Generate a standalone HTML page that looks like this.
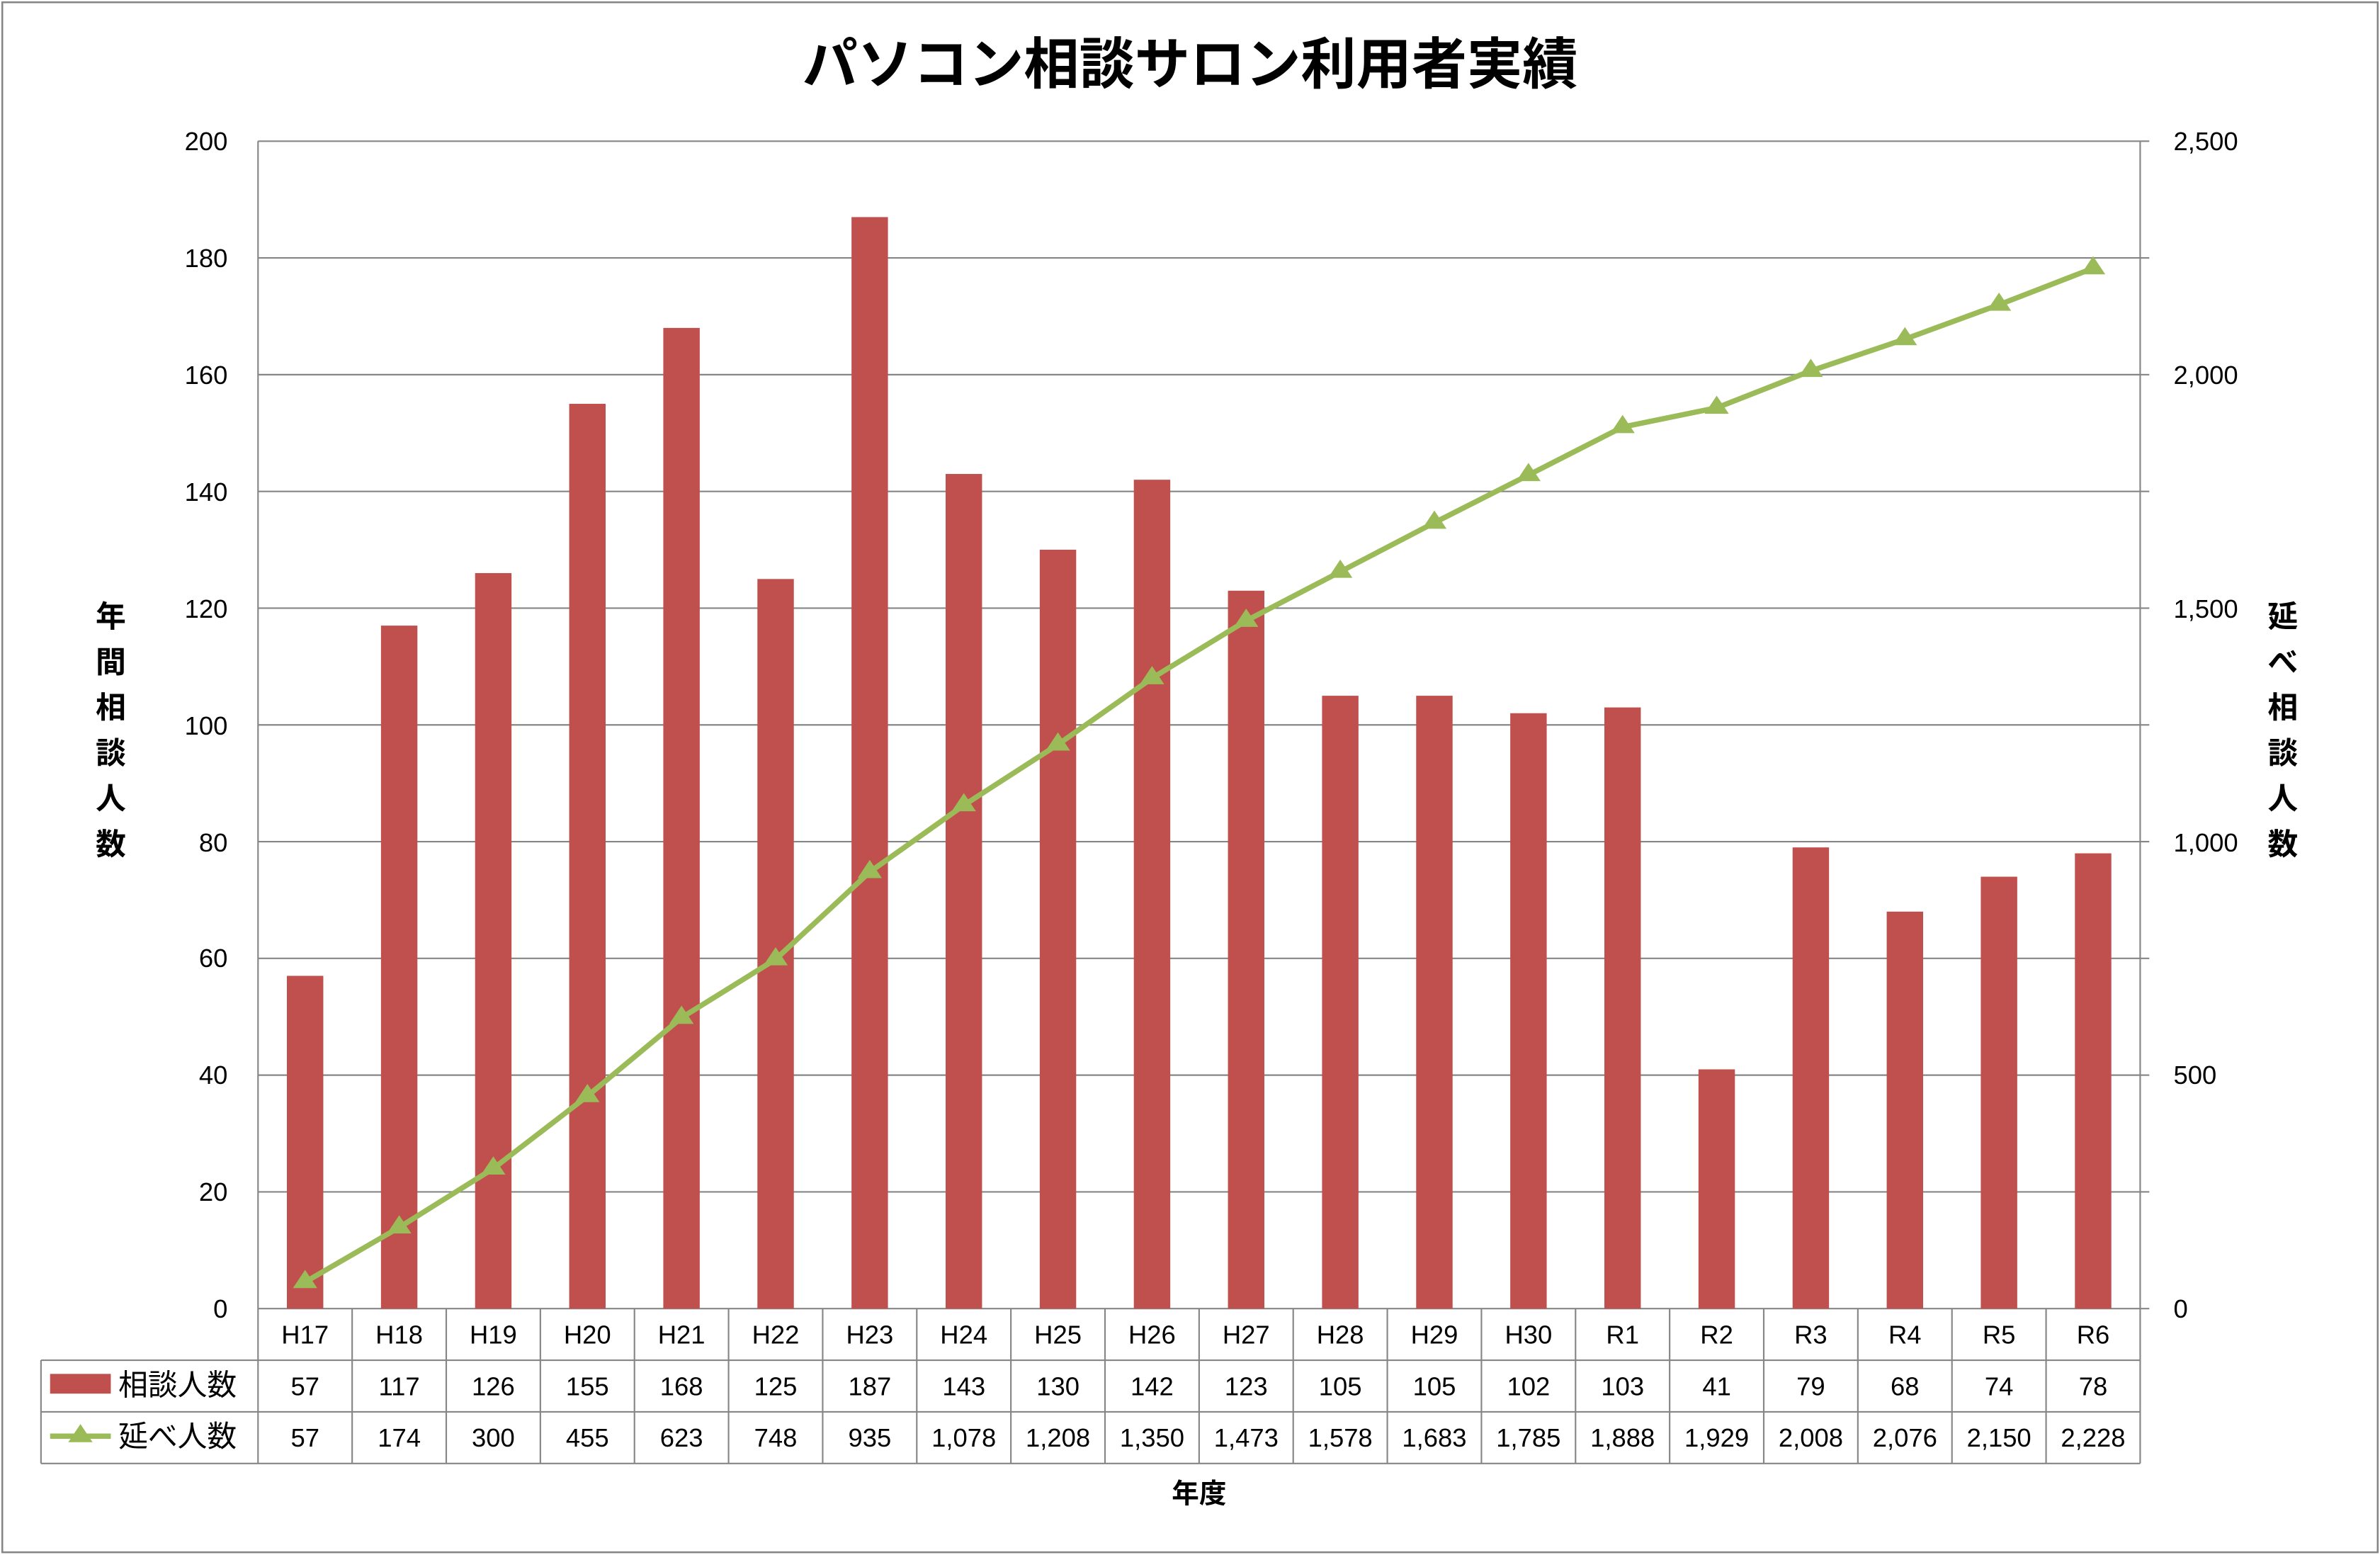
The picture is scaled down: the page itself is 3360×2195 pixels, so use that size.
<!DOCTYPE html>
<html><head><meta charset="utf-8"><style>
html,body{margin:0;padding:0;background:#fff;}
svg{display:block;}
text{font-family:"Liberation Sans","Noto Sans CJK JP",sans-serif;fill:#000;}
</style></head><body>
<svg width="3360" height="2195" viewBox="0 0 1568 1024.3" preserveAspectRatio="none" xmlns="http://www.w3.org/2000/svg">
<rect x="0" y="0" width="1568" height="1024.3" fill="#fff"/>
<rect x="1.5" y="1.5" width="1565" height="1021" fill="none" stroke="#868686" stroke-width="1.2"/>
<text x="784" y="55" text-anchor="middle" font-size="36.5" font-weight="bold">パソコン相談サロン利用者実績</text>
<g stroke="#868686" stroke-width="1">
<line x1="170" y1="93" x2="1410" y2="93"/><line x1="170" y1="169.9" x2="1410" y2="169.9"/><line x1="170" y1="246.8" x2="1410" y2="246.8"/><line x1="170" y1="323.7" x2="1410" y2="323.7"/><line x1="170" y1="400.6" x2="1410" y2="400.6"/><line x1="170" y1="477.5" x2="1410" y2="477.5"/><line x1="170" y1="554.4" x2="1410" y2="554.4"/><line x1="170" y1="631.3" x2="1410" y2="631.3"/><line x1="170" y1="708.2" x2="1410" y2="708.2"/><line x1="170" y1="785.1" x2="1410" y2="785.1"/><line x1="170" y1="862" x2="1416" y2="862"/>
<line x1="170" y1="93" x2="170" y2="964"/><line x1="1410" y1="93" x2="1410" y2="964"/>
<line x1="1410" y1="93" x2="1416" y2="93"/><line x1="1410" y1="169.9" x2="1416" y2="169.9"/><line x1="1410" y1="246.8" x2="1416" y2="246.8"/><line x1="1410" y1="323.7" x2="1416" y2="323.7"/><line x1="1410" y1="400.6" x2="1416" y2="400.6"/><line x1="1410" y1="477.5" x2="1416" y2="477.5"/><line x1="1410" y1="554.4" x2="1416" y2="554.4"/><line x1="1410" y1="631.3" x2="1416" y2="631.3"/><line x1="1410" y1="708.2" x2="1416" y2="708.2"/><line x1="1410" y1="785.1" x2="1416" y2="785.1"/>
<line x1="27" y1="896" x2="1410" y2="896"/><line x1="27" y1="930" x2="1410" y2="930"/><line x1="27" y1="964" x2="1410" y2="964"/><line x1="27" y1="896" x2="27" y2="964"/>
<line x1="232" y1="862" x2="232" y2="964"/><line x1="294" y1="862" x2="294" y2="964"/><line x1="356" y1="862" x2="356" y2="964"/><line x1="418" y1="862" x2="418" y2="964"/><line x1="480" y1="862" x2="480" y2="964"/><line x1="542" y1="862" x2="542" y2="964"/><line x1="604" y1="862" x2="604" y2="964"/><line x1="666" y1="862" x2="666" y2="964"/><line x1="728" y1="862" x2="728" y2="964"/><line x1="790" y1="862" x2="790" y2="964"/><line x1="852" y1="862" x2="852" y2="964"/><line x1="914" y1="862" x2="914" y2="964"/><line x1="976" y1="862" x2="976" y2="964"/><line x1="1038" y1="862" x2="1038" y2="964"/><line x1="1100" y1="862" x2="1100" y2="964"/><line x1="1162" y1="862" x2="1162" y2="964"/><line x1="1224" y1="862" x2="1224" y2="964"/><line x1="1286" y1="862" x2="1286" y2="964"/><line x1="1348" y1="862" x2="1348" y2="964"/>
</g>
<g font-size="17" text-anchor="end">
<text x="150" y="99">200</text><text x="150" y="176">180</text><text x="150" y="253">160</text><text x="150" y="330">140</text><text x="150" y="407">120</text><text x="150" y="484">100</text><text x="150" y="561">80</text><text x="150" y="637">60</text><text x="150" y="714">40</text><text x="150" y="791">20</text><text x="150" y="868">0</text>
</g>
<g font-size="17">
<text x="1432" y="99">2,500</text><text x="1432" y="253">2,000</text><text x="1432" y="407">1,500</text><text x="1432" y="561">1,000</text><text x="1432" y="714">500</text><text x="1432" y="868">0</text>
</g>
<g font-size="20" font-weight="bold" text-anchor="middle">
<text x="73" y="413">年</text><text x="73" y="443">間</text><text x="73" y="473">相</text><text x="73" y="503">談</text><text x="73" y="533">人</text><text x="73" y="563">数</text>
<text x="1504" y="413">延</text><text x="1504" y="443">べ</text><text x="1504" y="473">相</text><text x="1504" y="503">談</text><text x="1504" y="533">人</text><text x="1504" y="563">数</text>
<text x="790" y="990" font-size="18">年度</text>
</g>
<g fill="#C0504D">
<rect x="189" y="642.8" width="24" height="219.2"/><rect x="251" y="412.1" width="24" height="449.9"/><rect x="313" y="377.5" width="24" height="484.5"/><rect x="375" y="266" width="24" height="596"/><rect x="437" y="216" width="24" height="646"/><rect x="499" y="381.4" width="24" height="480.6"/><rect x="561" y="143" width="24" height="719"/><rect x="623" y="312.2" width="24" height="549.8"/><rect x="685" y="362.1" width="24" height="499.9"/><rect x="747" y="316" width="24" height="546"/><rect x="809" y="389.1" width="24" height="472.9"/><rect x="871" y="458.3" width="24" height="403.7"/><rect x="933" y="458.3" width="24" height="403.7"/><rect x="995" y="469.8" width="24" height="392.2"/><rect x="1057" y="466" width="24" height="396"/><rect x="1119" y="704.4" width="24" height="157.6"/><rect x="1181" y="558.2" width="24" height="303.8"/><rect x="1243" y="600.5" width="24" height="261.5"/><rect x="1305" y="577.5" width="24" height="284.5"/><rect x="1367" y="562.1" width="24" height="299.9"/>
</g>
<polyline fill="none" stroke="#9BBB59" stroke-width="3.5" stroke-linejoin="round" points="201,844.5 263,808.5 325,769.7 387,722 449,670.4 511,631.9 573,574.4 635,530.4 697,490.4 759,446.7 821,408.9 883,376.6 945,344.3 1007,312.9 1069,281.3 1131,268.6 1193,244.3 1255,223.4 1317,200.7 1379,176.7"/>
<g fill="#9BBB59">
<path d="M201,836.5l8,12h-16z"/><path d="M263,800.5l8,12h-16z"/><path d="M325,761.7l8,12h-16z"/><path d="M387,714l8,12h-16z"/><path d="M449,662.4l8,12h-16z"/><path d="M511,623.9l8,12h-16z"/><path d="M573,566.4l8,12h-16z"/><path d="M635,522.4l8,12h-16z"/><path d="M697,482.4l8,12h-16z"/><path d="M759,438.7l8,12h-16z"/><path d="M821,400.9l8,12h-16z"/><path d="M883,368.6l8,12h-16z"/><path d="M945,336.3l8,12h-16z"/><path d="M1007,304.9l8,12h-16z"/><path d="M1069,273.3l8,12h-16z"/><path d="M1131,260.6l8,12h-16z"/><path d="M1193,236.3l8,12h-16z"/><path d="M1255,215.4l8,12h-16z"/><path d="M1317,192.7l8,12h-16z"/><path d="M1379,168.7l8,12h-16z"/>
<path d="M53,938l8,12h-16z"/>
</g>
<rect x="33" y="905" width="40" height="13" fill="#C0504D"/>
<line x1="33" y1="946" x2="73" y2="946" stroke="#9BBB59" stroke-width="3.5"/>
<g font-size="19.5">
<text x="78" y="919">相談人数</text><text x="78" y="953">延べ人数</text>
</g>
<g font-size="17" text-anchor="middle">
<text x="201" y="885">H17</text><text x="263" y="885">H18</text><text x="325" y="885">H19</text><text x="387" y="885">H20</text><text x="449" y="885">H21</text><text x="511" y="885">H22</text><text x="573" y="885">H23</text><text x="635" y="885">H24</text><text x="697" y="885">H25</text><text x="759" y="885">H26</text><text x="821" y="885">H27</text><text x="883" y="885">H28</text><text x="945" y="885">H29</text><text x="1007" y="885">H30</text><text x="1069" y="885">R1</text><text x="1131" y="885">R2</text><text x="1193" y="885">R3</text><text x="1255" y="885">R4</text><text x="1317" y="885">R5</text><text x="1379" y="885">R6</text>
<text x="201" y="919">57</text><text x="263" y="919">117</text><text x="325" y="919">126</text><text x="387" y="919">155</text><text x="449" y="919">168</text><text x="511" y="919">125</text><text x="573" y="919">187</text><text x="635" y="919">143</text><text x="697" y="919">130</text><text x="759" y="919">142</text><text x="821" y="919">123</text><text x="883" y="919">105</text><text x="945" y="919">105</text><text x="1007" y="919">102</text><text x="1069" y="919">103</text><text x="1131" y="919">41</text><text x="1193" y="919">79</text><text x="1255" y="919">68</text><text x="1317" y="919">74</text><text x="1379" y="919">78</text>
<text x="201" y="953">57</text><text x="263" y="953">174</text><text x="325" y="953">300</text><text x="387" y="953">455</text><text x="449" y="953">623</text><text x="511" y="953">748</text><text x="573" y="953">935</text><text x="635" y="953">1,078</text><text x="697" y="953">1,208</text><text x="759" y="953">1,350</text><text x="821" y="953">1,473</text><text x="883" y="953">1,578</text><text x="945" y="953">1,683</text><text x="1007" y="953">1,785</text><text x="1069" y="953">1,888</text><text x="1131" y="953">1,929</text><text x="1193" y="953">2,008</text><text x="1255" y="953">2,076</text><text x="1317" y="953">2,150</text><text x="1379" y="953">2,228</text>
</g>
</svg>
</body></html>
